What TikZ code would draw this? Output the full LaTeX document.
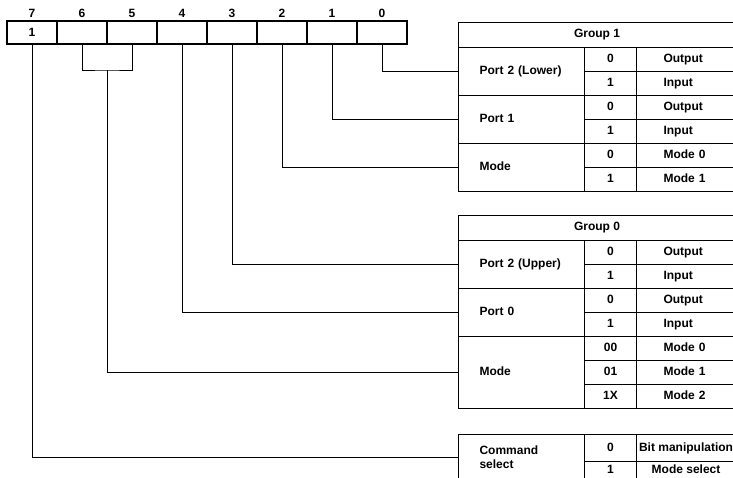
\documentclass[tikz,border=0pt]{standalone}
\usepackage{fontspec}
\setmainfont{Liberation Sans}
\usetikzlibrary{positioning}
\tikzset{
  bitbox/.style={draw,line width=1.1pt,minimum width=50pt,minimum height=23pt,inner sep=0pt},
  cell/.style={draw,line width=1.1pt,inner sep=0pt,anchor=north west},
  fixtext/.style={text height=9pt,text depth=2.5pt},
  namecell/.style={cell,fixtext,minimum width=126pt,text width=84pt,align=left},
  codecell/.style={cell,fixtext,minimum width=52pt,minimum height=24pt},
  desccell/.style={cell,fixtext,minimum width=99pt,minimum height=24pt,text width=45pt,align=left},
  wire/.style={line width=.8pt}
}
\begin{document}
\begin{tikzpicture}[x=1pt,y=-1pt,every node/.style={font=\fontsize{12}{13.5}\selectfont\bfseries}]
  \useasboundingbox (0,0) rectangle (733,478);
  \clip (0,0) rectangle (733,478);
  % register bits
  \foreach \b/\v in {7/1,6/{},5/{},4/{},3/{},2/{},1/{},0/{}} {
    \node[bitbox] (b\b) at ({32+(7-\b)*50},32.5) {\v};
    \node (t\b) at ({32+(7-\b)*50},13) {\b};
  }
  % group 1
  \node[cell,minimum width=277pt,minimum height=25pt] (g1) at (458,22) {Group 1};
  \node[namecell,minimum height=48pt] (p2l) at (458,47) {Port 2 (Lower)};
  \node[namecell,minimum height=48pt] (p1) at (458,95) {Port 1};
  \node[namecell,minimum height=48pt] (m1) at (458,143) {Mode};
  \foreach \i/\y/\v/\t in {a/47/0/Output,b/71/1/Input,c/95/0/Output,d/119/1/Input,e/143/0/Mode 0,f/167/1/Mode 1} {
    \node[codecell] (c1\i) at (584,\y) {\v};
    \node[desccell] (d1\i) at (636,\y) {\t};
  }
  % group 0
  \node[cell,minimum width=277pt,minimum height=25pt] (g0) at (458,215) {Group 0};
  \node[namecell,minimum height=48pt] (p2u) at (458,240) {Port 2 (Upper)};
  \node[namecell,minimum height=48pt] (p0) at (458,288) {Port 0};
  \node[namecell,minimum height=72pt] (m0) at (458,336) {Mode};
  \foreach \i/\y/\v/\t in {a/240/0/Output,b/264/1/Input,c/288/0/Output,d/312/1/Input,e/336/00/Mode 0,f/360/01/Mode 1,g/384/1X/Mode 2} {
    \node[codecell] (c0\i) at (584,\y) {\v};
    \node[desccell] (d0\i) at (636,\y) {\t};
  }
  % command select
  \node[cell,minimum width=126pt,minimum height=45pt,text width=84pt,align=left] (cs) at (458,434) {Command\\select};
  \node[codecell,minimum height=27pt] (csa) at (584,434) {0};
  \node[codecell,minimum height=18pt] (csb) at (584,461) {1};
  \node[cell,fixtext,minimum width=99pt,minimum height=27pt] (dsa) at (636,434) {Bit manipulation};
  \node[cell,fixtext,minimum width=99pt,minimum height=18pt] (dsb) at (636,461) {Mode select};
  % connections
  \draw[wire] (b0.south) |- (p2l.west);
  \draw[wire] (b1.south) |- (p1.west);
  \draw[wire] (b2.south) |- (m1.west);
  \draw[wire] (b3.south) |- (p2u.west);
  \draw[wire] (b4.south) |- (p0.west);
  \coordinate (brk) at (107,70);
  \draw[wire] (b6.south) |- (brk) -| (b5.south);
  \draw[wire] (brk) |- (m0.west);
  \draw[wire] (b7.south) |- (cs.west);
\end{tikzpicture}
\end{document}
